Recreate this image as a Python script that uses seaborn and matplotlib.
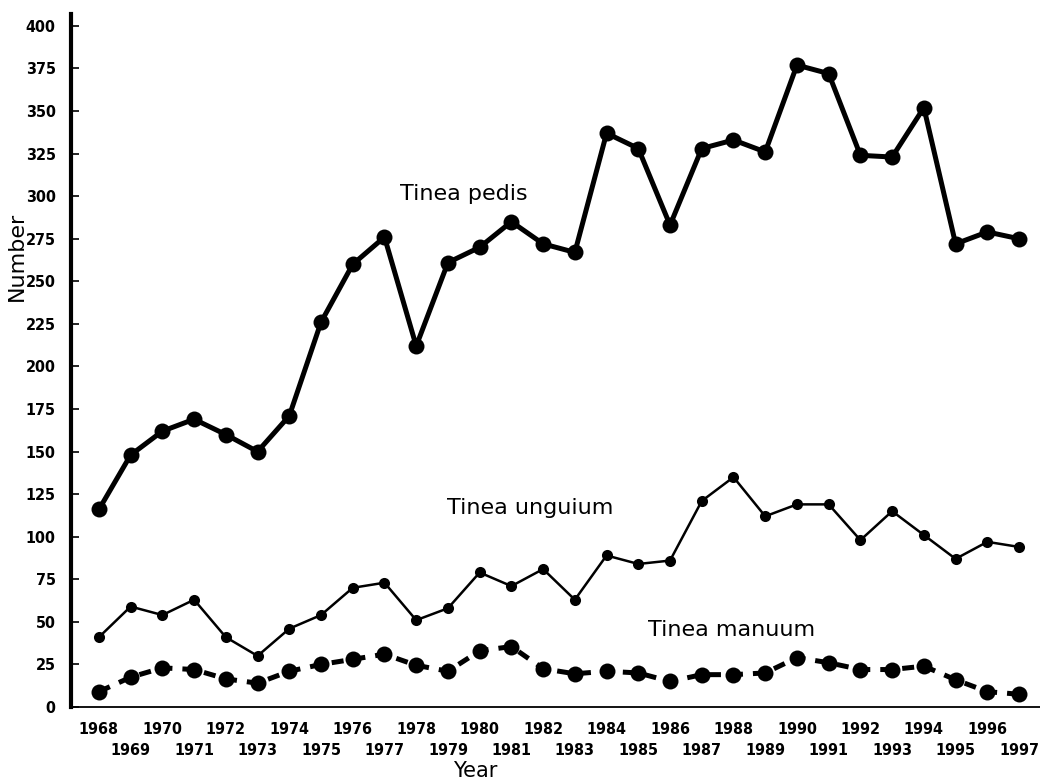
import matplotlib
matplotlib.use("Agg")
import matplotlib.pyplot as plt
import seaborn as sns
import pandas as pd
from matplotlib.ticker import FixedLocator

years = list(range(1968, 1998))
tinea_pedis = [116, 148, 162, 169, 160, 150, 171, 226, 260, 276,
               212, 261, 270, 285, 272, 267, 337, 328, 283, 328,
               333, 326, 377, 372, 324, 323, 352, 272, 279, 275]
tinea_unguium = [41, 59, 54, 63, 41, 30, 46, 54, 70, 73,
                 51, 58, 79, 71, 81, 63, 89, 84, 86, 121,
                 135, 112, 119, 119, 98, 115, 101, 87, 97, 94]
tinea_manuum = [9, 17.5, 23, 22, 16.5, 14, 21, 25, 28, 31,
                24.5, 21, 33, 35.5, 22.5, 19.5, 21, 20, 15, 19,
                19, 20, 29, 26, 22, 22, 24, 16, 9, 7.5]
y_ticks = list(range(0, 401, 25))

sns.set_theme(style="ticks")
plt.rcParams['font.family'] = ['DejaVu Sans']
for k in ["text.color", "axes.labelcolor", "xtick.color", "ytick.color", "axes.edgecolor"]:
    plt.rcParams[k] = "black"

df = pd.DataFrame({"Year": years, "pedis": tinea_pedis,
                   "unguium": tinea_unguium, "manuum": tinea_manuum})

fig = plt.figure(figsize=(10.4, 7.8), dpi=100)
ax = fig.add_axes([71/1040, (780-707)/780, 1-71/1040, (707-14)/780])

sns.lineplot(data=df, x="Year", y="pedis", ax=ax, color="black",
             linewidth=3.6, marker="o", markersize=11.5, markeredgewidth=0)
sns.lineplot(data=df, x="Year", y="unguium", ax=ax, color="black",
             linewidth=1.8, marker="o", markersize=8, markeredgewidth=0)
sns.lineplot(data=df, x="Year", y="manuum", ax=ax, color="black",
             linewidth=3.6, marker="o", markersize=11.5, markeredgewidth=0,
             dashes=False, linestyle=(0, (2.4, 2.0)))

ax.set_xlim(1967.12, 1997.66)
ax.set_ylim(0, 407)

tick_font = dict(fontsize=11.5, fontweight="bold", fontstretch="condensed")

# Y axis
ax.set_yticks(y_ticks)
ax.set_yticklabels([str(v) for v in y_ticks], **tick_font)
ax.tick_params(axis="y", direction="in", length=6, width=1.2, pad=11)

# X axis: even years on first row, odd years on second row
even = [y for y in years if y % 2 == 0]
odd = [y for y in years if y % 2 == 1]
ax.xaxis.set_major_locator(FixedLocator(even))
ax.set_xticklabels([str(v) for v in even], **tick_font)
ax.set_xticks(odd, minor=True)
ax.set_xticklabels([str(v) for v in odd], minor=True, **tick_font)
ax.tick_params(axis="x", which="major", length=0, pad=11)
ax.tick_params(axis="x", which="minor", length=0, pad=26)

for s in ["top", "right"]:
    ax.spines[s].set_visible(False)
ax.spines["left"].set_linewidth(3)
ax.spines["bottom"].set_linewidth(1.3)

ax.set_ylabel("Number", fontsize=16)
ax.yaxis.set_label_coords(-0.046, 0.65)
ax.set_xlabel("")
fig.text(475/1040, 1-771/780, "Year", fontsize=15, ha="center", va="center")

ax.text(1979.5, 301, "Tinea pedis", fontsize=16, ha="center", va="center")
ax.text(1981.6, 117, "Tinea unguium", fontsize=16, ha="center", va="center")
ax.text(1987.95, 45.5, "Tinea manuum", fontsize=16, ha="center", va="center")

fig.savefig("out.png", dpi=100, facecolor="white")
